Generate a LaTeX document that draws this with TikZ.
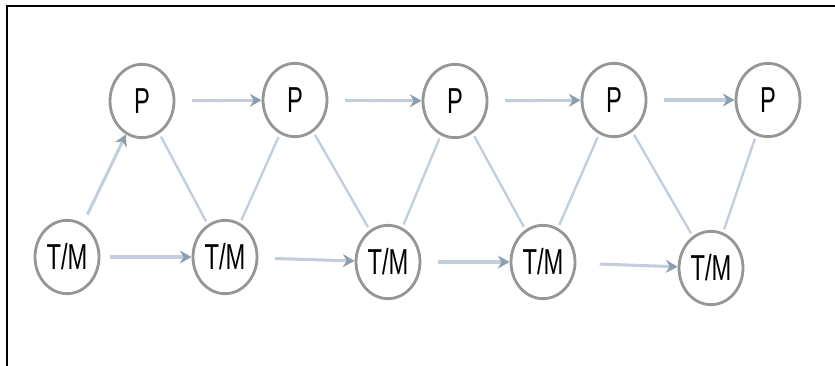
\documentclass[tikz,border=0pt]{standalone}
\usepackage{fontspec}
\setmainfont{Liberation Sans}
\usetikzlibrary{arrows.meta,shapes.geometric}
\definecolor{edgc}{RGB}{195,206,220}
\definecolor{tipc}{RGB}{140,158,176}
\definecolor{ringc}{RGB}{150,150,150}
\newcommand\tall[1]{\scalebox{.92}[1.4]{#1}}

\begin{document}
\begin{tikzpicture}[x=.03cm,y=-.03cm,
 st/.style={draw=ringc,line width=2.4pt,ellipse,minimum width=1.92cm,minimum height=2.2cm,inner sep=0,fill=white,font=\fontsize{22}{22}\selectfont},
 ar/.style={draw=edgc,line width=2.6pt,-{Stealth[length=10pt,width=11pt,color=tipc]},shorten <=.5cm},
 ln/.style={draw=edgc,line width=2pt,shorten <=.1cm,shorten >=.1cm}]
\useasboundingbox(0,0)rectangle(835,366);
\draw[line width=1.6pt](7,366)--(7,6)--(835,6);
\node[st](p1)at(142,101){\tall{P}};\node[st](p2)at(295,100){\tall{P}};\node[st](p3)at(455,101){\tall{P}};
\node[st](p4)at(614,100){\tall{P}};\node[st](p5)at(768,100){\tall{P}};
\node[st](t1)at(67,257){\tall{T/M}};\node[st](t2)at(225,257){\tall{T/M}};\node[st](t3)at(388,262){\tall{T/M}};
\node[st](t4)at(543,262){\tall{T/M}};\node[st](t5)at(711,268){\tall{T/M}};
\draw[ar](p1)--(p2);\draw[ar](p2)--(p3);\draw[ar](p3)--(p4);\draw[ar](p4)--(p5);
\draw[ar,shorten <=.3cm](t1)--(t2);\draw[ar](t2)--(t3);\draw[ar](t3)--(t4);\draw[ar,shorten <=.7cm](t4)--(t5);
\draw[ar,shorten <=.3cm](t1)--(p1);
\draw[ln](p1)--(t2);\draw[ln](t2)--(p2);\draw[ln](p2)--(t3);\draw[ln](t3)--(p3);
\draw[ln](p3)--(t4);\draw[ln](t4)--(p4);\draw[ln](p4)--(t5);\draw[ln](t5)--(p5);
\end{tikzpicture}
\end{document}
